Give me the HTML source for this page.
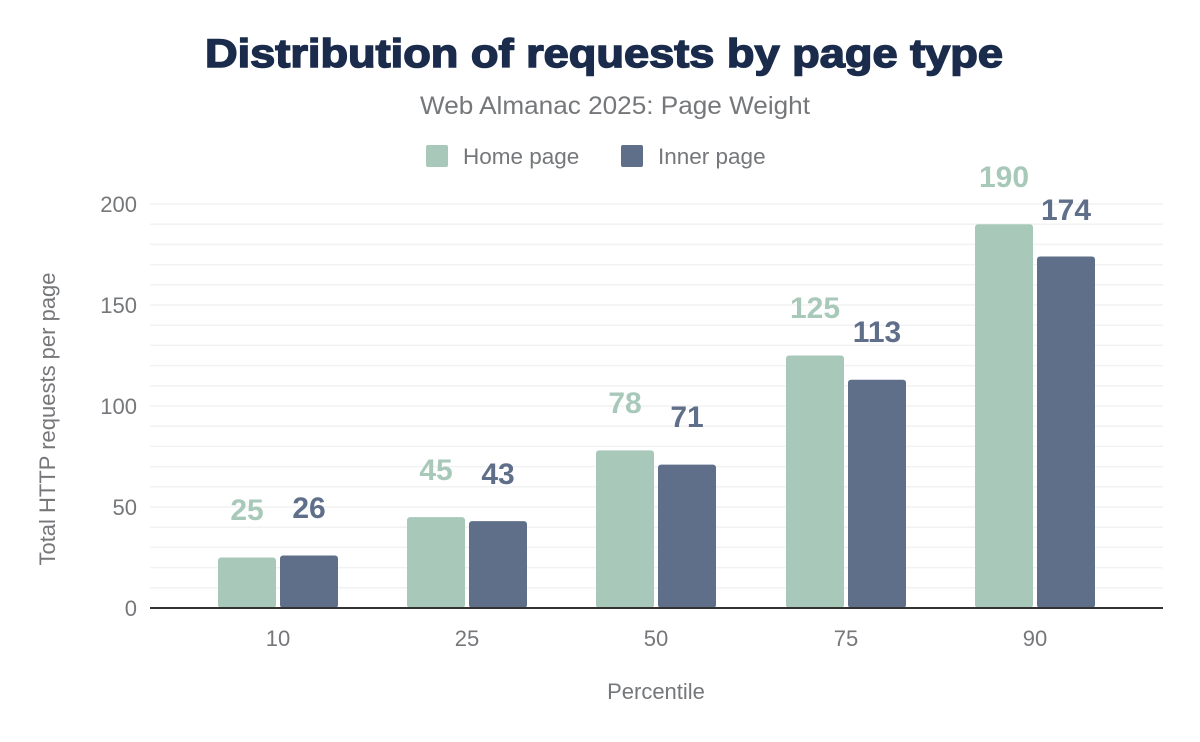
<!DOCTYPE html>
<html><head><meta charset="utf-8"><style>
body{margin:0;background:#fff;}
svg{display:block;font-family:"Liberation Sans",sans-serif;}
</style></head><body>
<svg width="1200" height="742" viewBox="0 0 1200 742">
<text x="205" y="67" textLength="798" lengthAdjust="spacingAndGlyphs" font-size="40" font-weight="900" fill="#1a2b4c" stroke="#1a2b4c" stroke-width="1.5">Distribution of requests by page type</text>
<text x="615" y="114" text-anchor="middle" font-size="25" fill="#75777a" textLength="390" lengthAdjust="spacingAndGlyphs">Web Almanac 2025: Page Weight</text>
<rect x="426" y="145" width="22" height="22" rx="2" fill="#a8c9b9"/>
<text x="463" y="164" font-size="22.5" fill="#75777a">Home page</text>
<rect x="621" y="145" width="22" height="22" rx="2" fill="#5f6f8a"/>
<text x="658" y="164" font-size="22.5" fill="#75777a">Inner page</text>
<g stroke="#f2f2f2" stroke-width="1.5">
<line x1="150" x2="1163" y1="204" y2="204"/><line x1="150" x2="1163" y1="224.2" y2="224.2"/><line x1="150" x2="1163" y1="244.4" y2="244.4"/><line x1="150" x2="1163" y1="264.6" y2="264.6"/><line x1="150" x2="1163" y1="284.8" y2="284.8"/><line x1="150" x2="1163" y1="305" y2="305"/><line x1="150" x2="1163" y1="325.2" y2="325.2"/><line x1="150" x2="1163" y1="345.4" y2="345.4"/><line x1="150" x2="1163" y1="365.6" y2="365.6"/><line x1="150" x2="1163" y1="385.8" y2="385.8"/><line x1="150" x2="1163" y1="406" y2="406"/><line x1="150" x2="1163" y1="426.2" y2="426.2"/><line x1="150" x2="1163" y1="446.4" y2="446.4"/><line x1="150" x2="1163" y1="466.6" y2="466.6"/><line x1="150" x2="1163" y1="486.8" y2="486.8"/><line x1="150" x2="1163" y1="507" y2="507"/><line x1="150" x2="1163" y1="527.2" y2="527.2"/><line x1="150" x2="1163" y1="547.4" y2="547.4"/><line x1="150" x2="1163" y1="567.6" y2="567.6"/><line x1="150" x2="1163" y1="587.8" y2="587.8"/>
</g>
<g font-size="22" fill="#75777a" text-anchor="end">
<text x="137" y="212">200</text><text x="137" y="313">150</text><text x="137" y="414">100</text><text x="137" y="515">50</text><text x="137" y="616">0</text>
</g>
<g>
<rect x="218" y="557.5" width="58" height="50.5" rx="3" fill="#a8c9b9"/>
<rect x="280" y="555.5" width="58" height="52.5" rx="3" fill="#5f6f8a"/>
<rect x="407" y="517.1" width="58" height="90.9" rx="3" fill="#a8c9b9"/>
<rect x="469" y="521.1" width="58" height="86.9" rx="3" fill="#5f6f8a"/>
<rect x="596" y="450.4" width="58" height="157.6" rx="3" fill="#a8c9b9"/>
<rect x="658" y="464.6" width="58" height="143.4" rx="3" fill="#5f6f8a"/>
<rect x="786" y="355.5" width="58" height="252.5" rx="3" fill="#a8c9b9"/>
<rect x="848" y="379.7" width="58" height="228.3" rx="3" fill="#5f6f8a"/>
<rect x="975" y="224.2" width="58" height="383.8" rx="3" fill="#a8c9b9"/>
<rect x="1037" y="256.5" width="58" height="351.5" rx="3" fill="#5f6f8a"/>
</g>
<g font-size="30" font-weight="bold" text-anchor="middle">
<text x="247" y="520" fill="#a8c9b9">25</text><text x="309" y="518" fill="#5f6f8a">26</text>
<text x="436" y="480" fill="#a8c9b9">45</text><text x="498" y="484" fill="#5f6f8a">43</text>
<text x="625" y="413" fill="#a8c9b9">78</text><text x="687" y="427" fill="#5f6f8a">71</text>
<text x="815" y="318" fill="#a8c9b9">125</text><text x="877" y="342" fill="#5f6f8a">113</text>
<text x="1004" y="187" fill="#a8c9b9">190</text><text x="1066" y="220" fill="#5f6f8a">174</text>
</g>
<line x1="150" x2="1163" y1="608" y2="608" stroke="#333" stroke-width="2"/>
<g font-size="22" fill="#75777a" text-anchor="middle">
<text x="278" y="646">10</text><text x="467" y="646">25</text><text x="656" y="646">50</text><text x="846" y="646">75</text><text x="1035" y="646">90</text>
<text x="656" y="699">Percentile</text>
<text transform="translate(55,419) rotate(-90)">Total HTTP requests per page</text>
</g>
</svg>
</body></html>
